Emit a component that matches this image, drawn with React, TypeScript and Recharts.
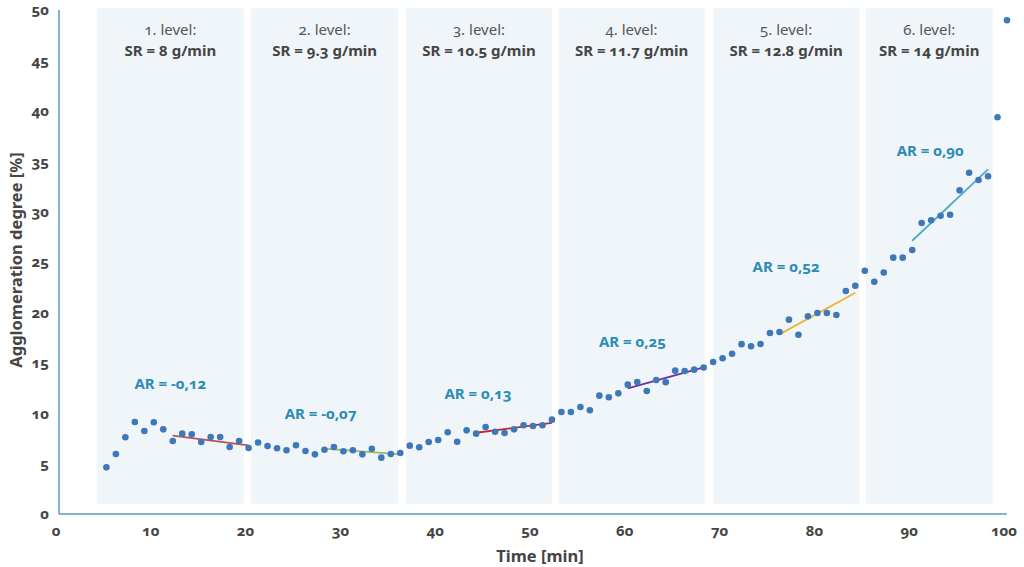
import React from 'react';
import {
  ComposedChart, Scatter, XAxis, YAxis, ReferenceArea, ReferenceLine, ReferenceDot, Label,
} from 'recharts';

// measured agglomeration degree, one sample per minute from t = 5 to t = 100
const times = [
  5, 6, 7, 8, 9, 10, 11, 12, 13, 14, 15, 16, 17, 18, 19, 20, 21, 22, 23, 24,
  25, 26, 27, 28, 29, 30, 31, 32, 33, 34, 35, 36, 37, 38, 39, 40, 41, 42, 43, 44,
  45, 46, 47, 48, 49, 50, 51, 52, 53, 54, 55, 56, 57, 58, 59, 60, 61, 62, 63, 64,
  65, 66, 67, 68, 69, 70, 71, 72, 73, 74, 75, 76, 77, 78, 79, 80, 81, 82, 83, 84,
  85, 86, 87, 88, 89, 90, 91, 92, 93, 94, 95, 96, 97, 98, 99, 100,
];
const degree = [
  4.63, 5.95, 7.61, 9.13, 8.23, 9.1, 8.4, 7.24, 7.97, 7.91, 7.14, 7.64, 7.64, 6.65, 7.24, 6.55, 7.09, 6.75, 6.52, 6.32,
  6.82, 6.25, 5.92, 6.38, 6.65, 6.22, 6.32, 5.92, 6.48, 5.59, 5.95, 6.05, 6.78, 6.62, 7.14, 7.34, 8.11, 7.17, 8.3, 7.97,
  8.63, 8.16, 8.04, 8.4, 8.8, 8.73, 8.8, 9.36, 10.12, 10.12, 10.62, 10.29, 11.74, 11.58, 11.97, 12.83, 13.1, 12.2, 13.29, 13.07,
  14.22, 14.19, 14.32, 14.53, 15.08, 15.45, 15.9, 16.85, 16.64, 16.87, 17.96, 18.06, 19.28, 17.79, 19.61, 19.94, 19.94, 19.74, 22.12, 22.64,
  24.13, 23.04, 23.96, 25.43, 25.43, 26.19, 28.87, 29.14, 29.59, 29.69, 32.11, 33.86, 33.13, 33.5, 39.36, 48.98,
];

// dosing levels (shaded bands)
const levelNames = ['1. level:', '2. level:', '3. level:', '4. level:', '5. level:', '6. level:'];
const levelRates = ['SR = 8 g/min', 'SR = 9.3 g/min', 'SR = 10.5 g/min', 'SR = 11.7 g/min', 'SR = 12.8 g/min', 'SR = 14 g/min'];
const bandStart = [4.0, 20.25, 36.6, 52.7, 69.0, 85.1];
const bandEnd = [19.5, 35.8, 52.0, 68.1, 84.4, 98.5];

// agglomeration rate fits
const arLabels = ['AR = -0,12', 'AR = -0,07', 'AR = 0,13', 'AR = 0,25', 'AR = 0,52', 'AR = 0,90'];
const arLabelX = [11.75, 27.6, 44.2, 60.5, 76.7, 91.9];
const arLabelY = [12.97, 9.99, 11.97, 17.09, 24.53, 36.01];
const fitX1 = [12, 28, 44, 60, 76, 90];
const fitY1 = [7.77, 6.48, 8.06, 12.47, 17.82, 27.11];
const fitX2 = [20, 36.1, 52, 68, 84, 98];
const fitY2 = [6.8, 5.92, 9.04, 14.55, 21.95, 34.19];
const fitColors = ['#c0504d', '#9bbb59', '#c0282d', '#7030a0', '#eeb52a', '#4bacc6'];

const xTicks = [0, 10, 20, 30, 40, 50, 60, 70, 80, 90, 100];
const yTicks = [0, 5, 10, 15, 20, 25, 30, 35, 40, 45, 50];

const points = times.map((t, i) => ({ t, v: degree[i] }));

const FONT = '"Noto Sans", "Open Sans", sans-serif';
const TEXT = '#454545';
const AR_COLOR = '#2b8db5';
const AXIS = '#5b9dc0';

const levelLabel = (i: number) => (props: any) => {
  const vb = props.viewBox || {};
  const cx = vb.x + vb.width / 2;
  return (
    <g>
      <text x={cx} y={vb.y + 21} textAnchor="middle" dominantBaseline="central"
        fontSize={15} fill="#555" fontFamily={FONT}>{levelNames[i]}</text>
      <text x={cx} y={vb.y + 42} textAnchor="middle" dominantBaseline="central"
        fontSize={15} fontWeight={700} fill={TEXT} fontFamily={FONT}>{levelRates[i]}</text>
    </g>
  );
};

export default function App() {
  return (
    <div style={{ position: 'absolute', left: 0, top: 0, width: 1024, height: 567, background: '#fff', fontFamily: FONT, fontVariantNumeric: 'oldstyle-nums' }}>
      <ComposedChart width={1024} height={567} data={points}
        margin={{ top: 10, right: 17, bottom: 0, left: 0 }}>
        {bandStart.map((s, i) => (
          <ReferenceArea key={`b${i}`} x1={s} x2={bandEnd[i]} y1={1} y2={50.2}
            fill="#eef4f9" fillOpacity={0.9} stroke="none" ifOverflow="visible"
            label={levelLabel(i)} />
        ))}
        <XAxis type="number" dataKey="t" domain={[0, 100]} ticks={xTicks} height={53}
          axisLine={{ stroke: AXIS, strokeWidth: 1.5 }} tickLine={false}
          tick={{ fontSize: 15, fontWeight: 700, fill: TEXT, fontFamily: FONT, dx: -3, dy: 3 }}>
          <Label value="Time [min]" position="insideBottom" offset={5} dx={7}
            style={{ fontSize: 16.5, fontWeight: 700, fill: TEXT, fontFamily: FONT }} />
        </XAxis>
        <YAxis type="number" dataKey="v" domain={[0, 50]} ticks={yTicks} width={59}
          axisLine={{ stroke: AXIS, strokeWidth: 1.5 }} tickLine={false}
          tick={{ fontSize: 15, fontWeight: 700, fill: TEXT, fontFamily: FONT, dx: -2 }}>
          <Label content={() => (
            <text x={15} y={260} transform="rotate(-90 15 260)" textAnchor="middle"
              dominantBaseline="central" fontSize={16.5} fontWeight={700} fill={TEXT}
              fontFamily={FONT}>Agglomeration degree [%]</text>
          )} />
        </YAxis>
        {fitX1.map((x, i) => (
          <ReferenceLine key={`f${i}`} segment={[{ x, y: fitY1[i] }, { x: fitX2[i], y: fitY2[i] }]}
            stroke={fitColors[i]} strokeWidth={1.8} ifOverflow="visible" />
        ))}
        <Scatter data={points} dataKey="v" fill="#3f78b9" isAnimationActive={false}
          shape={(p: any) => <circle cx={p.cx} cy={p.cy} r={3.3} fill="#3f78b9" />} />
        {arLabels.map((txt, i) => (
          <ReferenceDot key={`a${i}`} x={arLabelX[i]} y={arLabelY[i]} r={0} stroke="none" fill="none"
            ifOverflow="visible"
            label={{ value: txt, position: 'center', fill: AR_COLOR, fontSize: 15, fontWeight: 700, fontFamily: FONT }} />
        ))}
      </ComposedChart>
    </div>
  );
}
